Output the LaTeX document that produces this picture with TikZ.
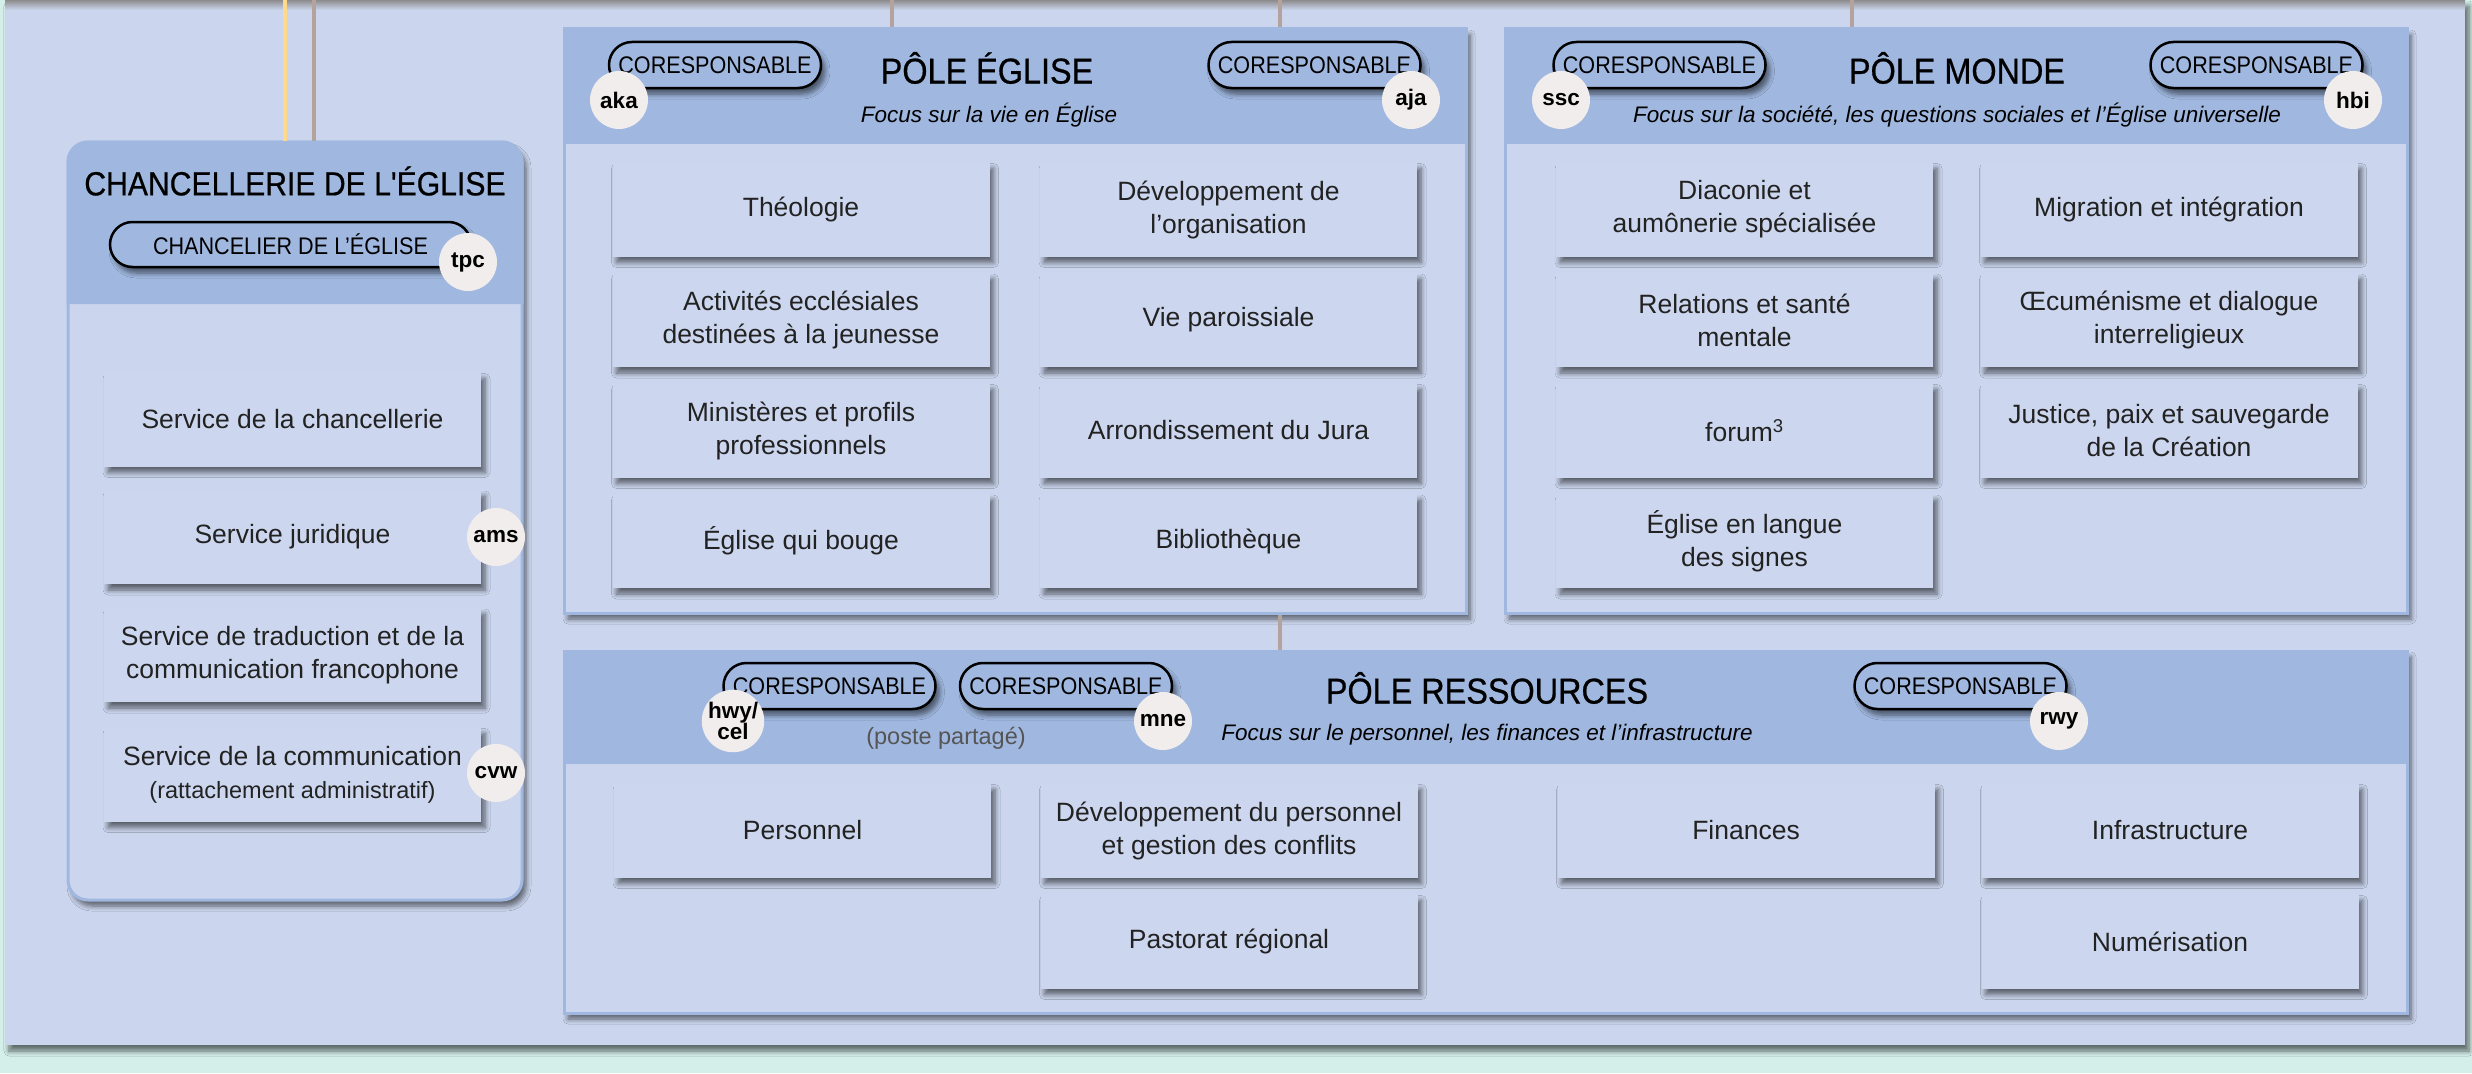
\documentclass[tikz,border=0pt]{standalone}
\usepackage{fontspec}
\setmainfont{Liberation Sans}
\newfontfamily\condfont[FakeStretch=0.9]{Liberation Sans}
\newfontfamily\condbold[FakeStretch=0.9,FakeBold=0.6]{Liberation Sans}
\usetikzlibrary{shadows,shadows.blur}
\definecolor{panelc}{HTML}{CBD6EE}
\definecolor{hdrc}{HTML}{A0B8E0}
\definecolor{mintc}{HTML}{D4EEE9}
\definecolor{badgec}{HTML}{F0EDEC}
\definecolor{boxc}{HTML}{CCD7EF}
\definecolor{shadc}{HTML}{2A3040}
\definecolor{yelc}{HTML}{FFD98A}
\definecolor{linec}{HTML}{B3A39C}
\definecolor{txtc}{HTML}{222222}
\definecolor{greyt}{HTML}{555555}
\begin{document}
\begin{tikzpicture}[x=1pt,y=-1pt,
  shad/.style={blur shadow={shadow xshift=4pt,shadow yshift=-6pt,shadow blur radius=5pt,shadow blur steps=6,shadow opacity=55}},
  svc/.style={rectangle, fill=boxc, minimum width=377pt, minimum height=94pt, inner sep=0pt, align=center, text=txtc, font=\fontsize{26.5}{33}\selectfont, shad},
  panel/.style={rectangle, fill=panelc, draw=hdrc, line width=3pt, inner sep=0pt, shad},
  pill/.style={rectangle, rounded corners=23pt, draw=black, line width=2.5pt, fill=hdrc, minimum width=212pt, minimum height=46pt, inner sep=0pt, font=\condfont\fontsize{24}{26}\selectfont, shad},
  badge/.style={circle, fill=badgec, minimum size=58pt, inner sep=0pt, align=center, font=\bfseries\fontsize{22.5}{21}\selectfont},
  ptitle/.style={inner sep=0pt, font=\condbold\fontsize{36}{40}\selectfont},
  subt/.style={inner sep=0pt, font=\itshape\fontsize{22.5}{26}\selectfont},
  conn/.style={line width=4.5pt, draw=linec},
]
\useasboundingbox (0,0) rectangle (2472,1073);
\fill[mintc] (0,0) rectangle (2472,1073);
\node[rectangle, fill=panelc, minimum width=2460pt, minimum height=1045pt, inner sep=0pt, shad] (bg) at (1235,522.5) {};
\shade[top color=black!45, bottom color=panelc] (5,0) rectangle (2465,10);

% panels
\node[panel, rounded corners=20pt, minimum width=454pt, minimum height=758pt] (chan) at (295,521) {};
\fill[hdrc] (66.5,304) [rounded corners=21.5pt]-- (66.5,140.5) -- (523.5,140.5) [sharp corners]-- (523.5,304) -- cycle;
\node[panel, minimum width=902pt, minimum height=584pt] (egl) at (1015,321) {};
\fill[hdrc] (562.5,27.5) rectangle (1467.5,144);
\node[panel, minimum width=902pt, minimum height=584pt] (mon) at (1956,321) {};
\fill[hdrc] (1503.5,27.5) rectangle (2408.5,144);
\node[panel, minimum width=1843pt, minimum height=362pt] (res) at (1485.5,832) {};
\fill[hdrc] (562.5,649.5) rectangle (2408.5,764);

% connectors
\coordinate (ty) at (285,0);
\coordinate (tg) at (314,0);
\coordinate (te) at (892,0);
\coordinate (tm) at (1280,0);
\coordinate (tw) at (1852,0);
\draw[conn, draw=yelc] (ty) -- (ty |- chan.north);
\draw[conn] (tg) -- (tg |- chan.north);
\draw[conn] (te) -- (te |- egl.north);
\draw[conn] (tm) -- (tm |- egl.north);
\draw[conn] (tm |- egl.south) -- (tm |- res.north);
\draw[conn] (tw) -- (tw |- mon.north);

% titles
\node[inner sep=0pt, font=\condbold\fontsize{33.5}{36}\selectfont] (tchan) at (295,181) {CHANCELLERIE DE L'ÉGLISE};
\node[ptitle] (tegl) at (987,68) {PÔLE ÉGLISE};
\node[subt] (segl) at (989,115) {Focus sur la vie en Église};
\node[ptitle] (tmon) at (1957,68) {PÔLE MONDE};
\node[subt] (smon) at (1957,115) {Focus sur la société, les questions sociales et l'Église universelle};
\node[ptitle] (tres) at (1487,688) {PÔLE RESSOURCES};
\node[subt] (sres) at (1487,735) {Focus sur le personnel, les finances et l'infrastructure};
\node[inner sep=0pt, text=greyt, font=\fontsize{23.5}{26}\selectfont] (pp) at (946,738) {(poste partagé)};

% pills
\node[pill, minimum width=361pt, minimum height=45pt, rounded corners=22.5pt] (pchan) at (290.5,244.5) {CHANCELIER DE L’ÉGLISE};
\node[pill] (pel) at (715,65) {CORESPONSABLE};
\node[pill] (per) at (1314.5,65) {CORESPONSABLE};
\node[pill] (pml) at (1659.5,65) {CORESPONSABLE};
\node[pill] (pmr) at (2256.5,65) {CORESPONSABLE};
\node[pill] (pr1) at (829.5,686) {CORESPONSABLE};
\node[pill] (pr2) at (1066,686) {CORESPONSABLE};
\node[pill] (pr3) at (1960.5,686) {CORESPONSABLE};

% chancellerie services
\node[svc] (c1) at (292.5,419.5) {Service de la chancellerie};
\node[svc] (c2) at (292.5,537) {Service juridique};
\node[svc] (c3) at (292.5,655) {Service de traduction et de la\\communication francophone};
\node[svc] (c4) at (292.5,774.5) {Service de la communication\\{\fontsize{23.5}{26}\selectfont(rattachement administratif)}};

% eglise
\node[svc] (e11) at (801,209.5) {Théologie};
\node[svc] (e12) at (1228.5,209.5) {Développement de\\l’organisation};
\node[svc] (e21) at (801,320) {Activités ecclésiales\\destinées à la jeunesse};
\node[svc] (e22) at (1228.5,320) {Vie paroissiale};
\node[svc] (e31) at (801,430.5) {Ministères et profils\\professionnels};
\node[svc] (e32) at (1228.5,430.5) {Arrondissement du Jura};
\node[svc] (e41) at (801,541) {Église qui bouge};
\node[svc] (e42) at (1228.5,541) {Bibliothèque};

% monde
\node[svc] (m11) at (1744.5,209.5) {Diaconie et\\aumônerie spécialisée};
\node[svc] (m12) at (2169,209.5) {Migration et intégration};
\node[svc] (m21) at (1744.5,320) {Relations et santé\\mentale};
\node[svc] (m22) at (2169,320) {Œcuménisme et dialogue\\interreligieux};
\node[svc] (m31) at (1744.5,430.5) {forum\textsuperscript{3}};
\node[svc] (m32) at (2169,430.5) {Justice, paix et sauvegarde\\de la Création};
\node[svc] (m41) at (1744.5,541) {Église en langue\\des signes};

% ressources
\node[svc] (r1) at (802.5,830.5) {Personnel};
\node[svc] (r2) at (1229,830.5) {Développement du personnel\\et gestion des conflits};
\node[svc] (r3) at (1229,941.5) {Pastorat régional};
\node[svc] (r4) at (1746,830.5) {Finances};
\node[svc] (r5) at (2170,830.5) {Infrastructure};
\node[svc] (r6) at (2170,941.5) {Numérisation};

% badges
\node[badge] (btpc) at (468,262) {tpc};
\node[badge] (bams) at (496,537) {ams};
\node[badge] (bcvw) at (496,773) {cvw};
\node[badge] (baka) at (619,100) {aka};
\node[badge] (baja) at (1411,100) {aja};
\node[badge] (bssc) at (1561,100) {ssc};
\node[badge] (bhbi) at (2353,100) {hbi};
\node[badge] (bhwy) at (733,721) {hwy/\\cel};
\node[badge] (bmne) at (1163,721) {mne};
\node[badge] (brwy) at (2059,721) {rwy};
\end{tikzpicture}
\end{document}
